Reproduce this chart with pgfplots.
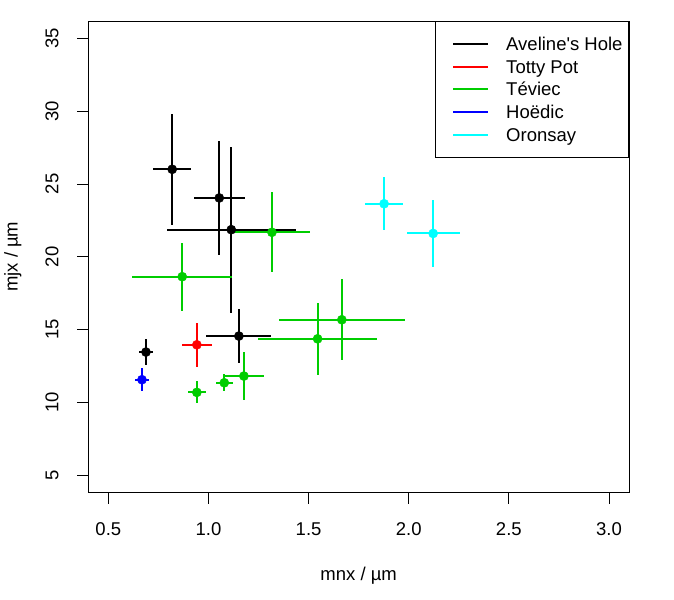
\documentclass[border=0pt]{standalone}
\usepackage{pgfplots}
\pgfplotsset{compat=1.18}
\usepackage{fontspec}
\setmainfont{Liberation Sans}[Ligatures=TeXOff]
\definecolor{rgreen}{HTML}{00CD00}
\definecolor{rcyan}{HTML}{00FFFF}
\definecolor{rblue}{HTML}{0000FF}
\definecolor{rred}{HTML}{FF0000}
\begin{document}
\begin{tikzpicture}
\path[use as bounding box] (-88.3bp,-107.5bp) rectangle (585.7bp,492.5bp);
\begin{axis}[
  at={(0,0)}, anchor=south west,
  scale only axis,
  width=540.7bp, height=471.5bp,
  xmin=0.4, xmax=3.1, ymin=3.8, ymax=36.2,
  xtick={0.5,1.0,1.5,2.0,2.5,3.0},
  ytick={5,10,15,20,25,30,35},
  xtick pos=bottom, ytick pos=left,
  tick align=outside,
  major tick length=11bp,
  axis line style={line width=0.9bp},
  every tick/.style={black, line width=0.9bp},
  font=\fontsize{18.5bp}{22bp}\selectfont,
  /pgf/number format/assume math mode=true,
  xticklabel style={anchor=base, inner sep=0pt, yshift=-32bp, /pgf/number format/fixed, /pgf/number format/fixed zerofill, /pgf/number format/precision=1},
  yticklabel style={rotate=90, anchor=base, inner sep=0pt, yshift=19bp},
  xlabel={mnx / µm},
  ylabel={mjx / µm},
  xlabel style={at={(axis description cs:0.5,-0.1856)}, anchor=base, inner sep=0pt},
  ylabel style={at={(axis description cs:-0.1309,0.5)}, rotate=0, anchor=base, inner sep=0pt},
  legend image code/.code={\path (0bp,0bp); \draw[#1, line width=2bp] (11bp,0bp) -- (46bp,0bp);},
  legend cell align=left,
  legend style={at={(1,1)}, anchor=north east, draw=black, line width=0.9bp,
    inner xsep=6bp, inner ysep=11.4bp, column sep=17bp, row sep=0pt,
    font=\fontsize{18.5bp}{22bp}\selectfont,
    nodes={inner sep=0pt, text height=17.9bp, text depth=4.7bp}},
  error bars/error bar style={line width=2bp},
]
\addlegendimage{black}
\addlegendentry{Aveline's Hole}
\addlegendimage{rred}
\addlegendentry{Totty Pot}
\addlegendimage{rgreen}
\addlegendentry{Téviec}
\addlegendimage{rblue}
\addlegendentry{Hoëdic}
\addlegendimage{rcyan}
\addlegendentry{Oronsay}

% Aveline's Hole
\addplot[forget plot, only marks, black, mark=*, mark size=4.6bp,
  error bars/.cd, x dir=both, x explicit, y dir=both, y explicit, error mark=none]
  coordinates {
  (0.819,26.01) +- (0.096,3.83)
  (1.054,24.04) +- (0.126,3.92)
  (1.114,21.86) +- (0.321,5.70)
  (1.152,14.55) +- (0.162,1.87)
  (0.688,13.45) +- (0.037,0.89)
  };
% Totty Pot
\addplot[forget plot, only marks, rred, mark=*, mark size=4.6bp,
  error bars/.cd, x dir=both, x explicit, y dir=both, y explicit, error mark=none]
  coordinates {
  (0.942,13.95) +- (0.075,1.53)
  };
% Teviec
\addplot[forget plot, only marks, rgreen, mark=*, mark size=4.6bp,
  error bars/.cd, x dir=both, x explicit, y dir=both, y explicit, error mark=none]
  coordinates {
  (0.869,18.63) +- (0.249,2.34)
  (1.317,21.68) +- (0.190,2.76)
  (0.942,10.68) +- (0.045,0.76)
  (1.079,11.34) +- (0.042,0.58)
  (1.177,11.80) +- (0.100,1.63)
  (1.545,14.36) +- (0.296,2.48)
  (1.666,15.67) +- (0.313,2.79)
  };
% Hoedic
\addplot[forget plot, only marks, rblue, mark=*, mark size=4.6bp,
  error bars/.cd, x dir=both, x explicit, y dir=both, y explicit, error mark=none]
  coordinates {
  (0.668,11.55) +- (0.037,0.79)
  };
% Oronsay
\addplot[forget plot, only marks, rcyan, mark=*, mark size=4.6bp,
  error bars/.cd, x dir=both, x explicit, y dir=both, y explicit, error mark=none]
  coordinates {
  (1.877,23.64) +- (0.096,1.82)
  (2.122,21.60) +- (0.133,2.30)
  };
\end{axis}
\end{tikzpicture}
\end{document}
